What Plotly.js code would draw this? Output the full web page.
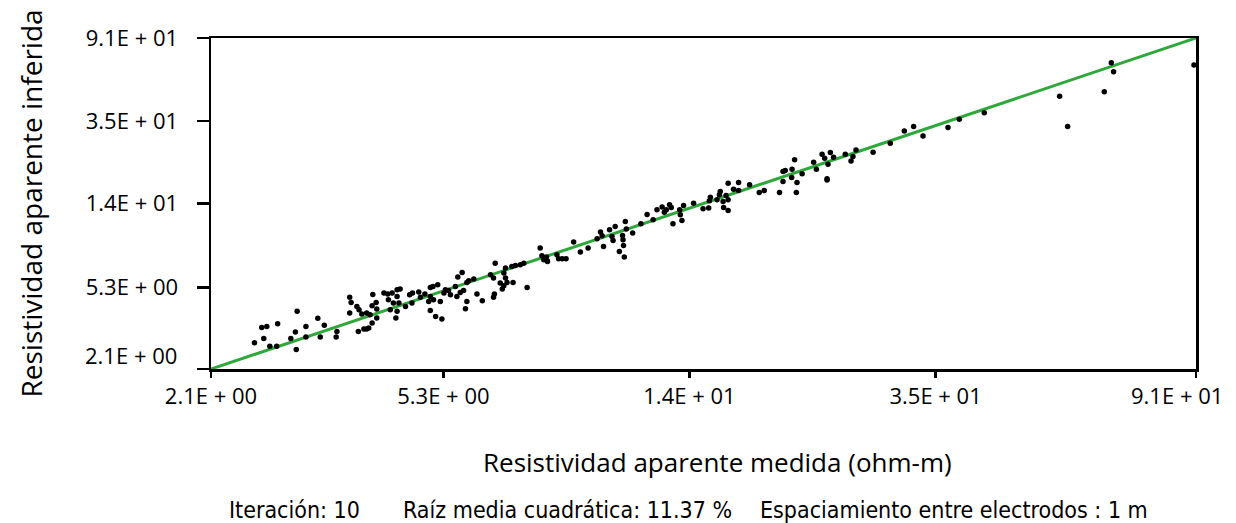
<!DOCTYPE html>
<html>
<head>
<meta charset="utf-8">
<script src="https://cdn.plot.ly/plotly-3.0.1.min.js"></script>
<style>html,body{margin:0;padding:0;background:#fff;}#chart{width:1236px;height:523px;}</style>
</head>
<body>
<div id="chart"></div>
<script>
// Measured apparent resistivity (ohm-m)
const measured = [
2.48,2.55,2.60,2.57,2.63,2.70,2.71,2.92,2.85,2.90,2.91,3.02,3.02,3.16,3.19,3.24,3.40,3.39,3.57,3.59,
3.57,3.69,3.77,3.81,3.84,3.67,3.70,3.74,3.81,3.86,3.89,3.90,3.89,3.95,3.96,3.96,4.07,4.13,4.14,4.20,
4.28,4.33,4.28,4.31,4.22,4.17,4.28,4.26,4.42,4.49,4.54,4.53,4.65,4.68,4.76,4.86,4.91,5.00,4.86,4.83,
4.92,4.86,4.96,5.08,5.05,5.12,5.15,5.21,5.25,5.35,5.40,5.49,5.38,5.45,5.52,5.59,5.63,5.74,5.59,5.56,
5.81,5.93,6.12,6.19,6.21,6.19,6.35,6.44,6.48,6.44,6.40,6.52,6.67,6.64,6.73,6.86,6.95,7.04,6.23,6.48,7.60,
7.40,7.45,7.58,7.61,7.50,7.89,7.94,8.05,8.17,8.41,8.63,8.89,9.20,9.32,9.38,9.43,9.65,9.74,9.78,9.86,
10.02,10.14,10.16,10.18,10.21,10.25,10.29,10.54,10.88,11.14,11.40,11.57,11.80,11.90,11.99,12.14,12.22,12.30,12.62,12.65,
12.73,12.81,13.31,13.80,14.10,14.19,14.14,14.56,14.69,14.74,14.90,14.93,15.19,15.07,15.19,15.19,15.51,15.81,15.81,16.49,
17.11,17.44,18.49,18.74,19.72,19.77,22.18,
18.74,18.90,19.40,19.37,19.59,20.16,21.07,21.29,21.76,21.98,22.26,22.18,22.46,22.74,23.78,24.31,24.49,24.78,26.45,28.25,
29.81,30.89,32.02,35.23,36.79,40.48,55.68,
65.81,66.39,54.00,64.07,90.3
];
// Inferred apparent resistivity (ohm-m)
const inferred = [
2.83,3.37,3.41,2.97,2.72,2.72,3.52,4.05,2.97,3.20,2.62,3.41,3.02,3.74,3.02,3.46,3.22,3.02,4.76,4.48,
3.97,3.22,3.31,3.31,3.35,4.28,4.12,3.93,3.97,3.90,3.55,4.91,4.32,4.48,4.16,3.75,4.99,4.93,4.62,4.99,
5.18,5.22,4.80,4.45,4.45,4.12,4.05,3.75,4.28,4.89,4.99,4.45,5.04,4.76,4.93,5.31,5.38,5.48,4.80,4.53,
4.62,4.09,3.82,3.71,4.53,4.99,5.18,5.14,4.89,5.38,5.98,6.30,4.80,5.02,5.14,5.62,5.73,5.85,4.53,4.17,
4.93,4.57,6.14,5.92,4.93,4.76,5.59,6.26,5.92,5.42,5.22,5.62,5.62,6.75,6.83,6.88,7.01,5.31,7.01,6.63,7.20,
8.32,7.62,7.51,7.14,7.28,7.71,7.37,7.37,7.37,8.91,7.95,8.32,9.25,9.98,9.57,8.47,10.24,9.49,9.07,10.63,
8.00,9.60,9.14,8.57,7.51,11.26,10.33,9.87,10.97,12.19,11.48,12.86,13.27,12.53,12.86,13.61,13.20,10.97,12.86,12.15,
11.39,13.50,13.88,13.01,13.12,14.86,14.25,14.41,15.26,15.84,14.14,13.20,12.76,15.14,14.41,17.42,16.27,16.02,17.54,17.09,
15.66,16.02,15.66,17.74,15.66,17.54,18.09,
19.88,20.11,20.43,18.57,22.72,19.37,22.13,20.43,24.24,23.16,21.63,18.30,24.69,23.42,24.24,22.46,23.58,25.45,24.80,27.47,
31.59,33.18,29.85,32.80,36.09,38.90,33.18,
68.71,62.03,46.88,49.40,66.93
];
// Axis extent and 1:1 reference line
const axisMin = 2.1, axisMax = 91;
const refLine = [2.1, 91];
// Tick positions and labels
const xTickVals = [2.1, 5.11, 13.1, 33.6, 90.99];
const xTickText = ['2.1E + 00', '5.3E + 00', '1.4E + 01', '3.5E + 01', ''];
const xLastLabel = '9.1E + 01';
const yTickVals = [2.1, 5.3, 13.8, 35.4, 90.99];
const yTickText = ['', '5.3E + 00', '1.4E + 01', '3.5E + 01', '9.1E + 01'];
const yBottomLabel = '2.1E + 00';
const xTitle = 'Resistividad aparente medida (ohm-m)';
const yTitle = 'Resistividad aparente inferida';
const footer = ['Iteración: 10', 'Raíz media cuadrática: 11.37 %', 'Espaciamiento entre electrodos : 1 m'];

const tickFont = {family: 'Open Sans, sans-serif', size: 22, color: '#000'};
const xTitleFont = {family: 'Open Sans, sans-serif', size: 26, color: '#000'};
const yTitleFont = {family: 'Open Sans, sans-serif', size: 28, color: '#000'};
const footFont = {family: 'Liberation Sans Narrow, DejaVu Sans Condensed, sans-serif', size: 23, color: '#000'};

const traces = [
  {x: refLine, y: refLine, mode: 'lines', line: {color: '#2ea83a', width: 3}, hoverinfo: 'skip', cliponaxis: true},
  {x: measured, y: inferred, mode: 'markers', marker: {color: '#000', size: 5.5}, cliponaxis: false}
];

const axisCommon = {
  type: 'log', showgrid: false, zeroline: false, showline: true, linecolor: '#000', linewidth: 2.5,
  mirror: true, ticks: 'outside', tickcolor: '#000', tickwidth: 2.5, tickmode: 'array', tickfont: tickFont
};

const layout = {
  width: 1236, height: 523, showlegend: false,
  paper_bgcolor: '#fff', plot_bgcolor: '#fff',
  margin: {l: 211, r: 40, t: 38, b: 154},
  xaxis: Object.assign({}, axisCommon, {
    range: [Math.log10(axisMin), Math.log10(axisMax)], tickvals: xTickVals, ticktext: xTickText,
    ticklen: 6, ticklabelstandoff: 0
  }),
  yaxis: Object.assign({}, axisCommon, {
    range: [Math.log10(axisMin), Math.log10(axisMax)], tickvals: yTickVals, ticktext: yTickText,
    ticklen: 12, ticklabelstandoff: 14
  }),
  annotations: [
    {text: yBottomLabel, xref: 'paper', yref: 'paper', x: -0.0325, y: 0, xanchor: 'right', yanchor: 'middle', yshift: 14, showarrow: false, font: tickFont},
    {text: xLastLabel, xref: 'paper', yref: 'paper', x: 0.9807, y: 0, xanchor: 'center', yanchor: 'middle', yshift: -26, showarrow: false, font: tickFont},
    {text: xTitle, xref: 'paper', yref: 'paper', x: 0.5143, y: 0, xanchor: 'center', yanchor: 'middle', yshift: -93, showarrow: false, font: xTitleFont},
    {text: yTitle, xref: 'paper', yref: 'paper', x: 0, y: 0.5, xanchor: 'center', yanchor: 'middle', xshift: -181, textangle: -90, showarrow: false, font: yTitleFont},
    {text: footer[0], xref: 'paper', yref: 'paper', x: 0.0162, y: 0, xanchor: 'left', yanchor: 'middle', yshift: -141, showarrow: false, font: footFont},
    {text: footer[1], xref: 'paper', yref: 'paper', x: 0.1929, y: 0, xanchor: 'left', yanchor: 'middle', yshift: -141, showarrow: false, font: footFont},
    {text: footer[2], xref: 'paper', yref: 'paper', x: 0.5553, y: 0, xanchor: 'left', yanchor: 'middle', yshift: -141, showarrow: false, font: footFont}
  ]
};

Plotly.newPlot('chart', traces, layout, {displayModeBar: false, staticPlot: true});
</script>
</body>
</html>
